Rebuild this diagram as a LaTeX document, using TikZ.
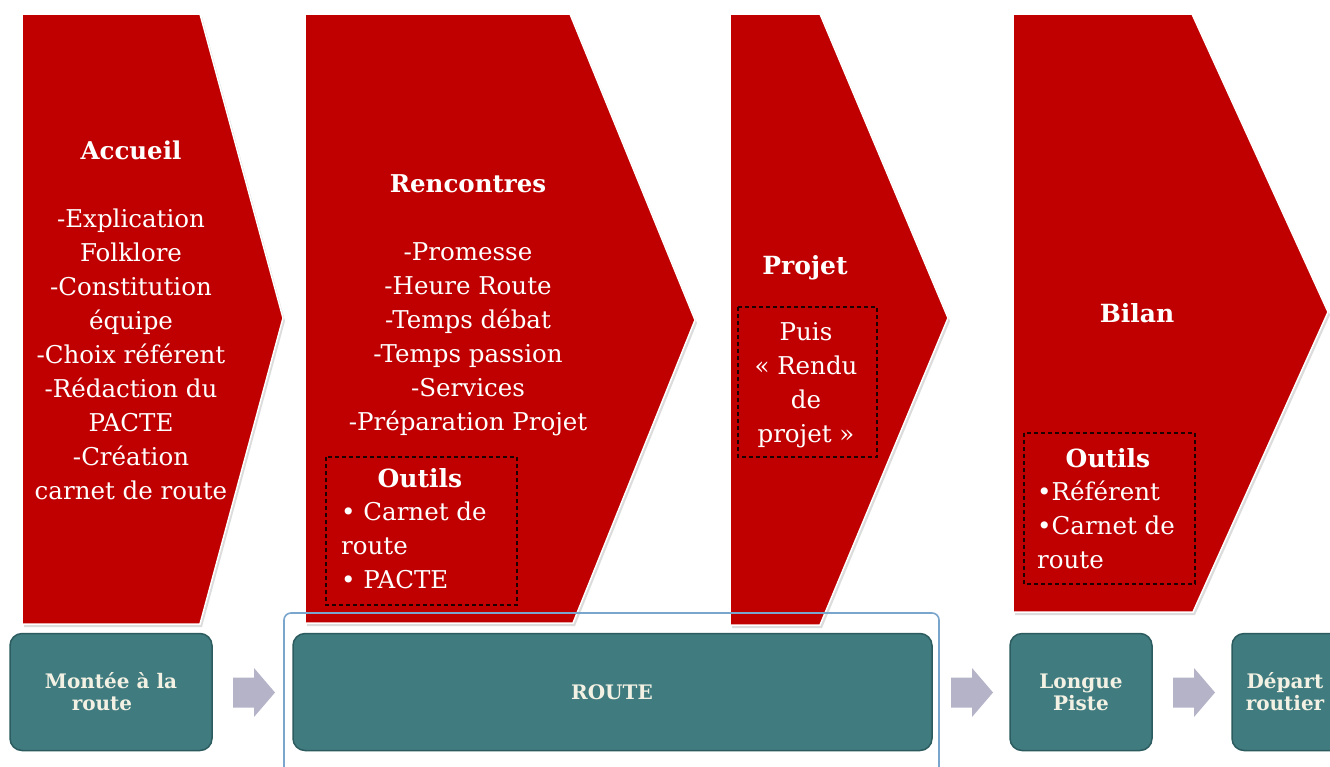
\documentclass[tikz,border=0pt]{standalone}
\usepackage{fontspec}
\setmainfont{DejaVu Serif}
\definecolor{cred}{HTML}{C00000}
\definecolor{cteal}{HTML}{407B7F}
\definecolor{ctealdark}{HTML}{2C5C5F}
\definecolor{ccream}{HTML}{F3F1E3}
\definecolor{carrow}{HTML}{B4B3C8}
\definecolor{cblue}{HTML}{7AA6CE}
\begin{document}
\begin{tikzpicture}[x=1pt,y=-1pt,
  chev/.style={fill=cred, draw=white, line width=1.5pt, line join=miter},
  chevshadow/.style={fill=black!30, opacity=0.45},
  ctext/.style={text=white, font=\fontsize{24.5}{34}\selectfont, align=center, inner sep=0pt, anchor=north},
  ctitle/.style={text=white, font=\bfseries\fontsize{25}{34}\selectfont, inner sep=0pt, anchor=base},
  citems/.style={text=white, font=\fontsize{24.5}{34}\selectfont, align=left, inner sep=0pt, anchor=north west},
  dbox/.style={draw=black!85!cred, dash pattern=on 4pt off 3pt, line width=1.6pt},
  tealbox/.style={fill=cteal, draw=ctealdark, line width=1.5pt, rounded corners=12pt, minimum height=117pt, inner sep=0pt},
  ttext/.style={text=ccream, font=\bfseries\fontsize{20}{22}\selectfont, align=center},
  blueline/.style={draw=cblue, line width=1.6pt, rounded corners=7pt},
  garr/.pic={\fill[carrow] (0,-15) -- (21,-15) -- (21,-24.5) -- (42,0) -- (21,24.5) -- (21,15) -- (0,15) -- cycle;}
]
\useasboundingbox (0,0) rectangle (1330,766);
\clip (0,0) rectangle (1330,766);
\fill[white] (0,0) rectangle (1330,766);

% shadows
\begin{scope}[shift={(2,3)}]
\fill[chevshadow] (22,14) -- (200,14) -- (283,318) -- (200,624) -- (22,624) -- cycle;
\fill[chevshadow] (305,14) -- (570,14) -- (695,320) -- (573,623) -- (305,623) -- cycle;
\fill[chevshadow] (730,14) -- (820,14) -- (948,318) -- (820,625) -- (730,625) -- cycle;
\fill[chevshadow] (1013,14) -- (1192,14) -- (1328,312) -- (1193,612) -- (1013,612) -- cycle;
\end{scope}
% chevrons
\draw[chev] (22,14) -- (200,14) -- (283,318) -- (200,624) -- (22,624) -- cycle;
\draw[chev] (305,14) -- (570,14) -- (695,320) -- (573,623) -- (305,623) -- cycle;
\draw[chev] (730,14) -- (820,14) -- (948,318) -- (820,625) -- (730,625) -- cycle;
\draw[chev] (1013,14) -- (1192,14) -- (1328,312) -- (1193,612) -- (1013,612) -- cycle;

% dashed boxes
\draw[dbox] (326,457) rectangle (517,605);
\draw[dbox] (738,307) rectangle (877,457);
\draw[dbox] (1024,433) rectangle (1195,584);

% chevron 1
\node[ctext] (accueil) at (131,135.5) {\strut\textbf{Accueil}\\[34pt]-Explication\\Folklore\\-Constitution\\équipe\\-Choix référent\\-Rédaction du\\PACTE\\-Création\\carnet de route};
% chevron 2
\node[ctext] (rencontres) at (468,168.5) {\strut\textbf{Rencontres}\\[34pt]-Promesse\\-Heure Route\\-Temps débat\\-Temps passion\\-Services\\-Préparation Projet};
\node[ctitle] (outilsA) at (420,487) {Outils};
\node[citems] (itemsA) at (341,496.5) {\strut• Carnet de\\route\\• PACTE};
% chevron 3
\node[ctitle] (projet) at (805,274) {Projet};
\node[ctext] (rendu) at (806,316.5) {\strut Puis\\«~Rendu\\de\\projet~»};
% chevron 4
\node[ctitle] (bilan) at (1137,322) {Bilan};
\node[ctitle] (outilsB) at (1108,467) {Outils};
\node[citems] (itemsB) at (1037,476.5) {\strut•Référent\\•Carnet de\\route};

% blue outline
\draw[blueline] (284,613) rectangle (939,800);

% teal boxes
\node[tealbox, minimum width=202pt] (montee) at (111,692) {};
\node[ttext] (monteetxt) at (111,692) {Montée à la\\route\hspace*{0.9em}};
\node[tealbox, minimum width=639pt] (route) at (612.5,692) {};
\node[ttext] (routetxt) at (612,692) {ROUTE};
\node[tealbox, minimum width=142pt] (longue) at (1081,692) {};
\node[ttext] (longuetxt) at (1081,692) {Longue\\Piste};
\node[tealbox, minimum width=142pt] (depart) at (1303,692) {};
\node[ttext] (departtxt) at (1285,692) {Départ\\routier};

% arrows
\pic at (233,692.5) {garr};
\pic at (951,692.5) {garr};
\pic at (1173,692.5) {garr};
\end{tikzpicture}
\end{document}
